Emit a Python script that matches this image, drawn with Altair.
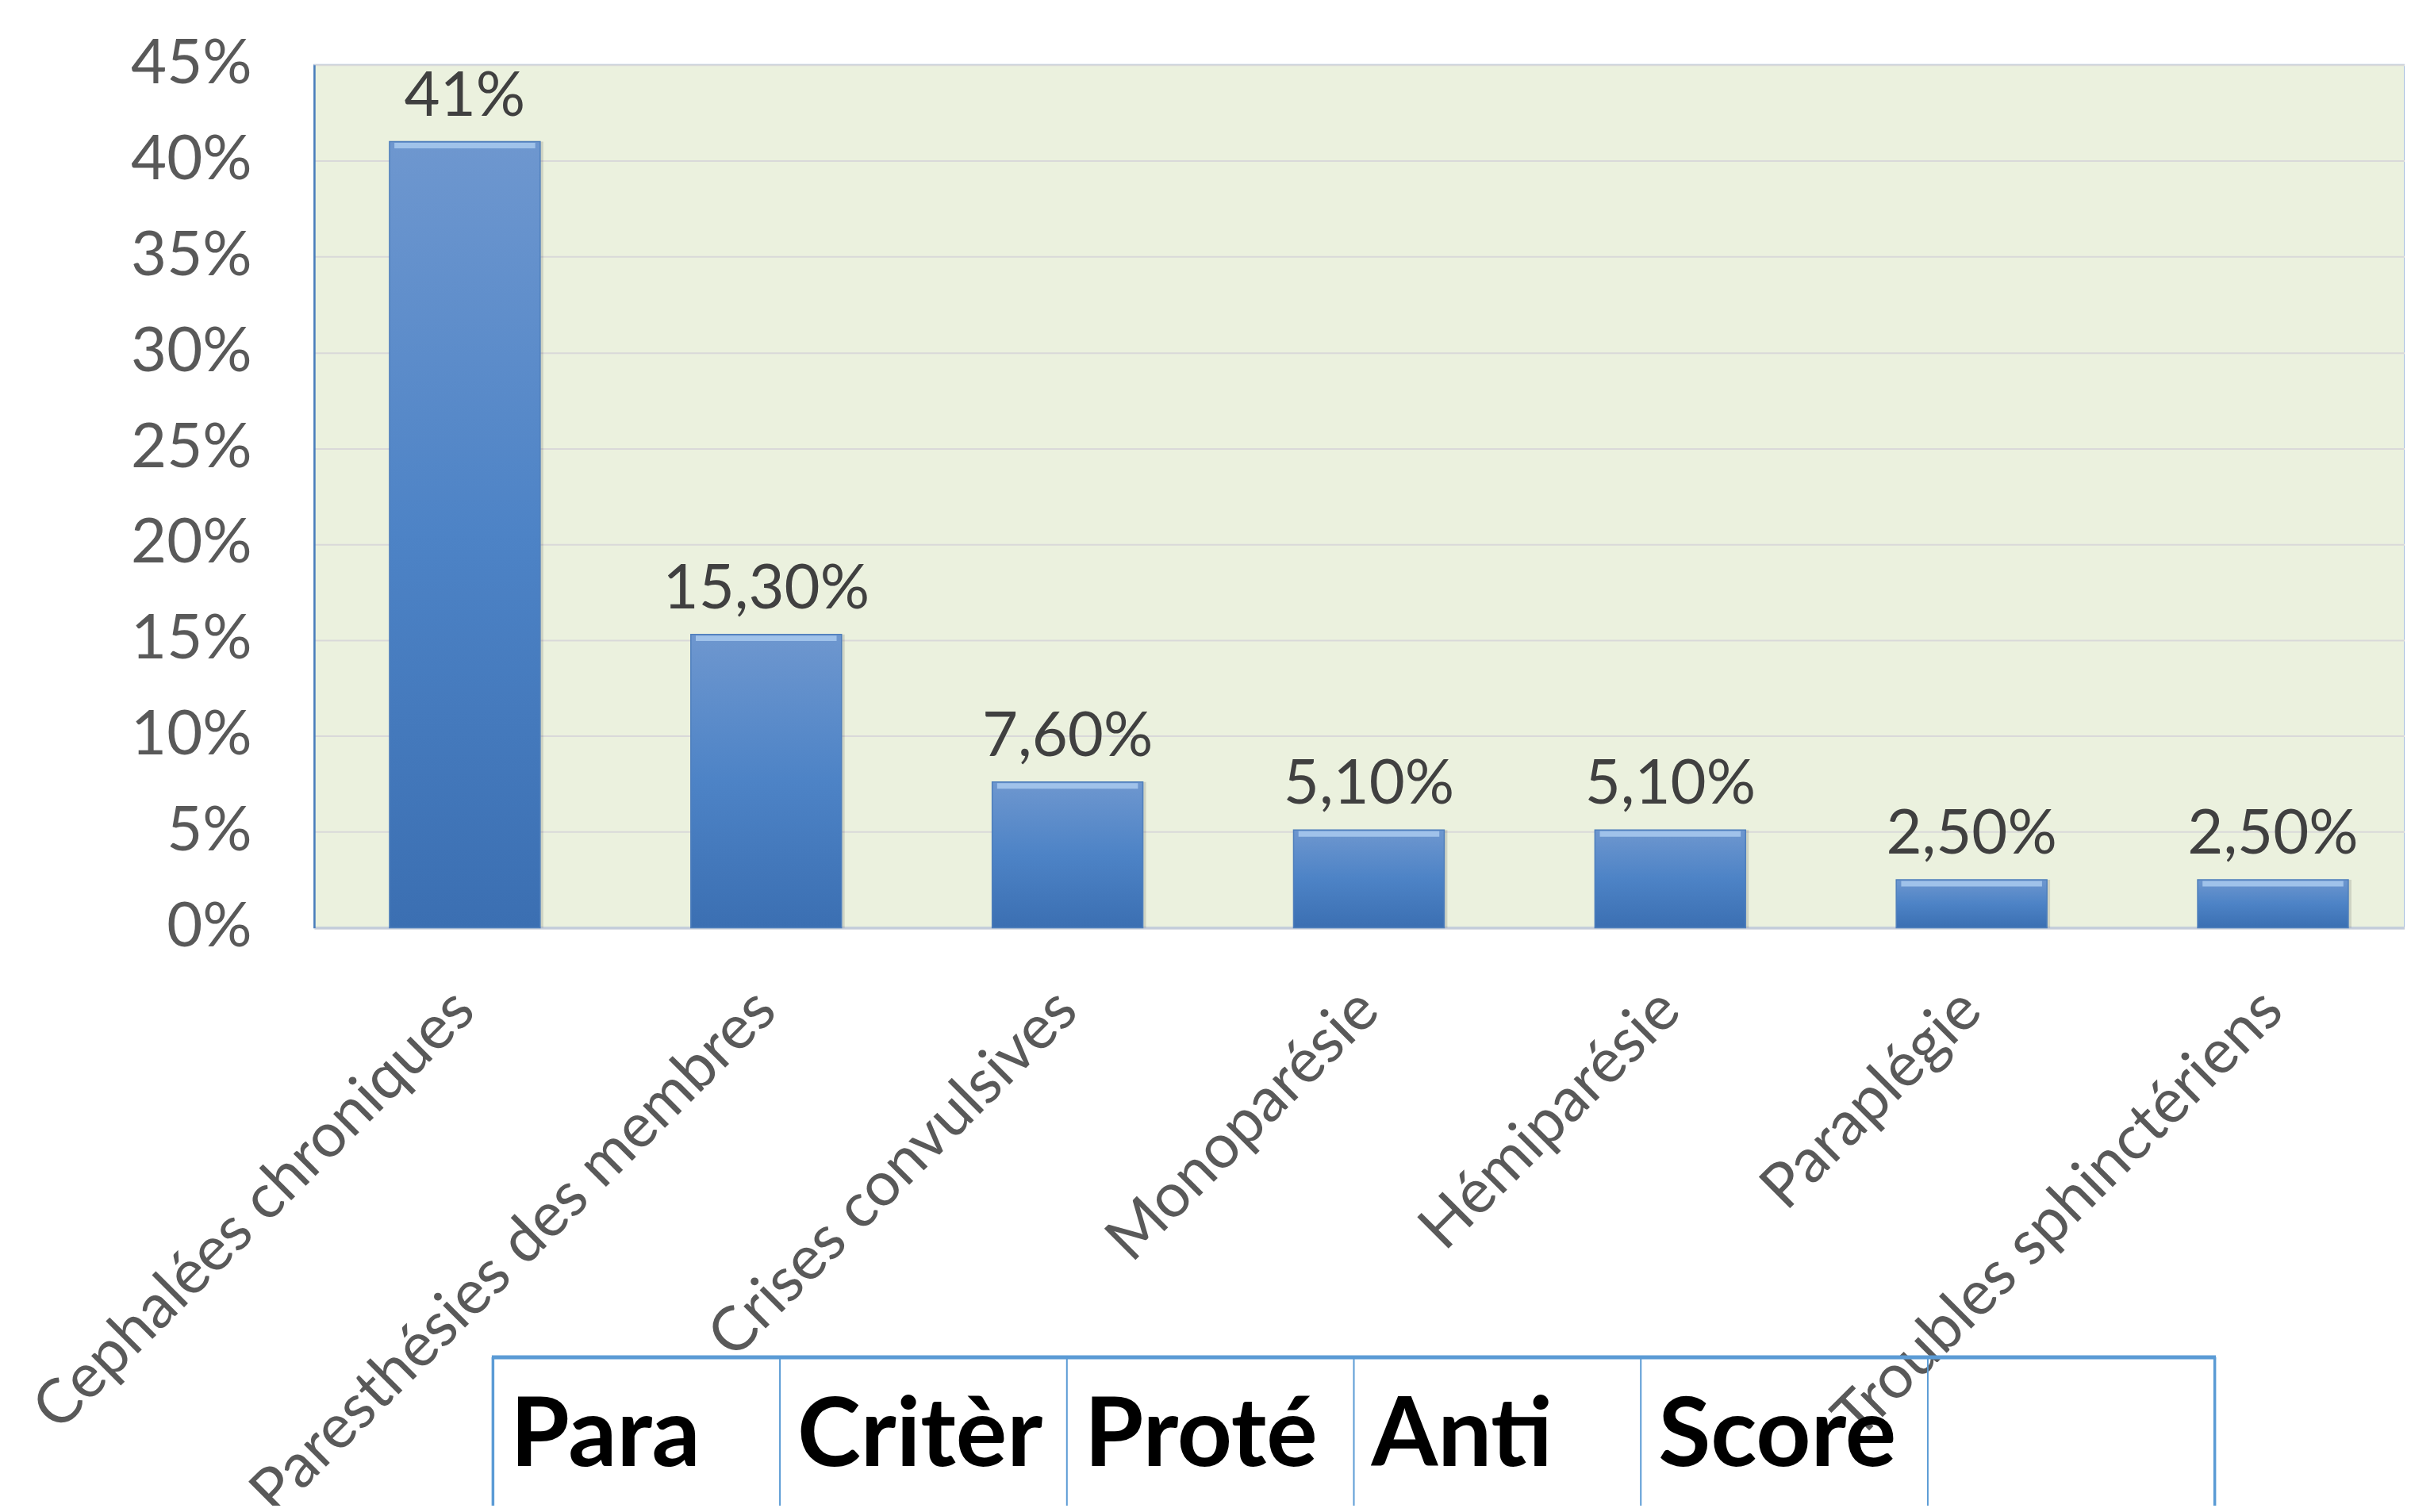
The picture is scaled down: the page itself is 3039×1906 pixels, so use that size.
import altair as alt
import pandas as pd

# ---- data ----
categories = [
    "Cephalées chroniques",
    "Paresthésies des membres",
    "Crises convulsives",
    "Monoparésie",
    "Hémiparésie",
    "Paraplégie",
    "Troubles sphinctériens",
]
values = [41.0, 15.3, 7.6, 5.1, 5.1, 2.5, 2.5]  # percent
value_labels = ["41%", "15,30%", "7,60%", "5,10%", "5,10%", "2,50%", "2,50%"]
y_ticks = [0, 0.05, 0.10, 0.15, 0.20, 0.25, 0.30, 0.35, 0.40, 0.45]
table_headers = ["Para", "Critèr", "Proté", "Anti", "Score", ""]

df = pd.DataFrame({"cat": categories,
                   "pct": [v / 100 for v in values],
                   "label": value_labels})
cells = pd.DataFrame({"idx": list(range(len(table_headers))), "text": table_headers})
borders = pd.DataFrame({"idx": list(range(len(table_headers) + 1))})
one = pd.DataFrame({"a": [0]})

# ---- layout (pixels) ----
FONT = "Lato"
W, H = 2642, 1090.5
X_RANGE = 2666          # plot continues past the right edge of the picture
TBL_L, TBL_R = 226, 2402
TBL_TOP, TBL_BOT = 1633.5, 1830
TBL_BASE = 1770.5

x_scale = alt.Scale(range=[0, X_RANGE], paddingInner=0.5, paddingOuter=0.25)
x = alt.X(
    "cat:N", sort=categories, title=None, scale=x_scale,
    axis=alt.Axis(labelAngle=-45, labelAlign="right", labelBaseline="middle",
                  labelPadding=92, labelFont=FONT, labelFontSize=78,
                  labelColor="#595959", ticks=False, grid=False,
                  domainColor="#C3CCDA", domainWidth=3, labelLimit=0,
                  labelOverlap=False),
)
y = alt.Y(
    "pct:Q", title=None,
    scale=alt.Scale(domain=[0, 0.45], nice=False),
    axis=alt.Axis(values=y_ticks, format=".0%", labelFont=FONT, labelFontSize=78,
                  labelColor="#595959", labelPadding=79, ticks=False,
                  domainColor="#4A7EBB", domainWidth=2.5,
                  gridColor="#D9D9D9", gridWidth=2),
)

base = alt.Chart(df)

shadow = base.mark_bar(color="#000000", opacity=0.12, xOffset=4).encode(x=x, y=y)

bar_grad = alt.Gradient(
    gradient="linear", x1=0, x2=0, y1=0, y2=1,
    stops=[alt.GradientStop(color="#6E97CF", offset=0),
           alt.GradientStop(color="#4D83C6", offset=0.5),
           alt.GradientStop(color="#3B6FB2", offset=1)],
)
bars = base.mark_bar(color=bar_grad, stroke="#4F7FBC", strokeWidth=1.5).encode(x=x, y=y)

bevel = base.mark_tick(orient="horizontal", size=178, thickness=7,
                       color="#A9CAEE", opacity=0.85, yOffset=5).encode(x=x, y=y)

labels = base.mark_text(font=FONT, fontSize=78, color="#404040",
                        baseline="alphabetic", dy=-33).encode(x=x, y=y, text="label:N")

bar_layer = alt.layer(shadow, bars, bevel, labels)

xt = alt.X("idx:Q", scale=alt.Scale(domain=[0, len(table_headers)],
                                    range=[TBL_L, TBL_R]), axis=None)

tbl_v = alt.Chart(borders).mark_rule(color="#5B9BD5").encode(
    x=xt, y=alt.value(TBL_TOP), y2=alt.value(TBL_BOT),
    strokeWidth=alt.condition(
        alt.FieldOneOfPredicate(field="idx", oneOf=[0, len(table_headers)]),
        alt.value(3.5), alt.value(2)),
)
tbl_top = alt.Chart(one).mark_rule(color="#5B9BD5", strokeWidth=5).encode(
    x=alt.value(TBL_L - 1.5), x2=alt.value(TBL_R + 1.5), y=alt.value(TBL_TOP)
)
tbl_text = alt.Chart(cells).mark_text(
    font=FONT, fontWeight="bold", fontSize=121, color="#000000",
    align="left", baseline="alphabetic", dx=22,
).encode(x=xt, y=alt.value(TBL_BASE), text="text:N")

table_layer = alt.layer(tbl_v, tbl_top, tbl_text)

chart = (
    alt.layer(bar_layer, table_layer)
    .resolve_scale(x="independent")
    .properties(width=W, height=H,
                autosize=alt.AutoSizeParams(type="none"),
                padding={"left": 389, "top": 71.5, "right": 0, "bottom": 728})
    .configure(font=FONT)
    .configure_view(fill="#EBF1DE", stroke="#A7BFDE", strokeWidth=2)
)

chart.save("out.html", embed_options={"renderer": "svg", "actions": False})
